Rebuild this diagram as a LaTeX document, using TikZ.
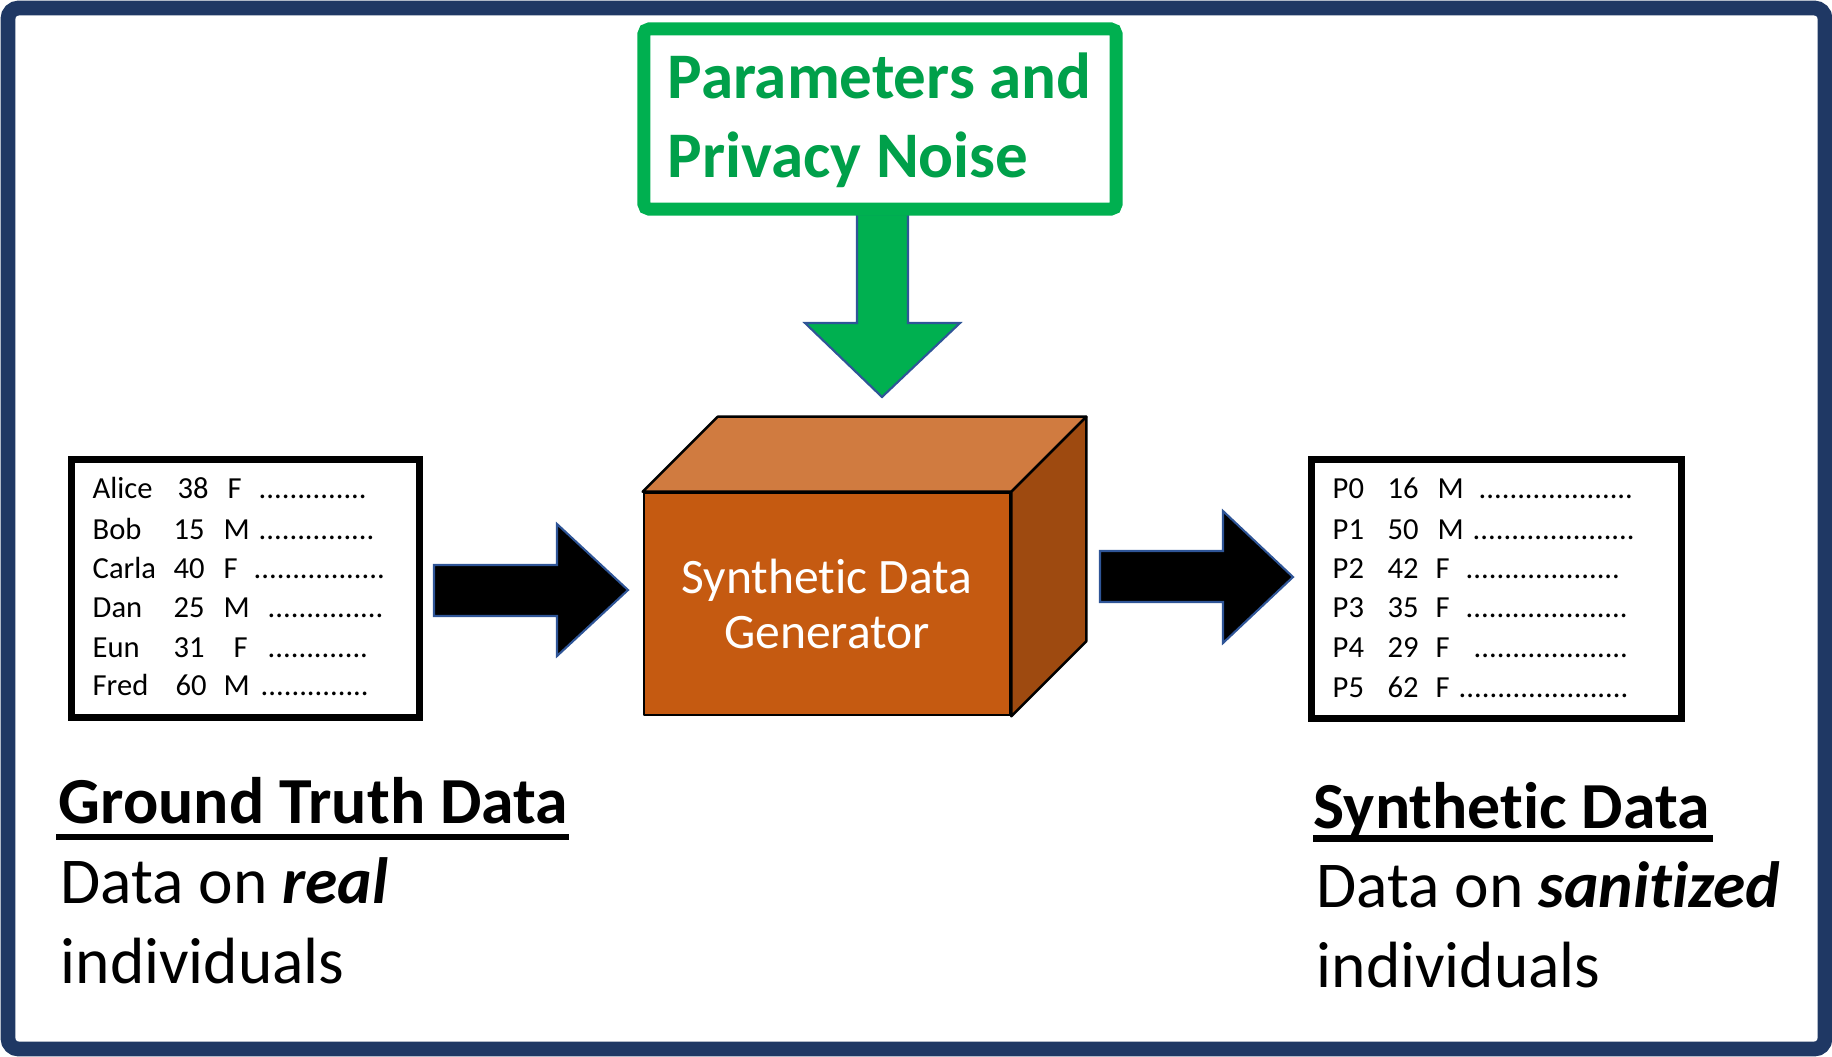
\documentclass[tikz,border=0pt]{standalone}
\usepackage{fontspec}
\setmainfont{Carlito}[Ligatures=NoCommon]
\usetikzlibrary{positioning}

\definecolor{framenavy}{HTML}{1F3864}
\definecolor{paramgreen}{HTML}{00B050}
\definecolor{paramtext}{HTML}{00A04A}
\definecolor{arrowblue}{HTML}{2F5597}
\definecolor{genfront}{HTML}{C55A11}
\definecolor{gentop}{HTML}{D07B40}
\definecolor{genside}{HTML}{9E4A10}

% run of tight dots, width in cm
\newcommand{\dotrun}[1]{\hbox to #1cm{\leaders\hbox{.}\hfill}}

\begin{document}
\begin{tikzpicture}[x=0.01cm, y=-0.01cm,
    frame/.style={draw=framenavy, line width=4.2pt, rounded corners=3pt},
    parambox/.style={draw=paramgreen, line width=3.7pt, rounded corners=1.5pt, fill=white,
      minimum width=4.72cm, minimum height=1.80cm},
    paramlabel/.style={anchor=base west, inner sep=0pt, text=paramtext,
      font=\fontsize{18.5}{22}\selectfont\bfseries},
    bigarrow/.style={fill=black, draw=arrowblue, line width=0.6pt},
    genface/.style={draw=black, line width=0.7pt, line join=round},
    tablebox/.style={draw=black, line width=2pt},
    rowtext/.style={anchor=base west, inner sep=0pt, font=\fontsize{8.7}{10}\selectfont},
    label/.style={anchor=base west, inner sep=0pt, font=\fontsize{18.6}{22}\selectfont},
    title/.style={label, font=\fontsize{18.7}{22}\selectfont\bfseries},
    uline/.style={line width=1.9pt}]

    \useasboundingbox (0,0) rectangle (1832,1056);

    % Frame
    \draw [frame] (8,8) rectangle (1825,1049);

    % Noise arrow (under the box)
    \draw [bigarrow, fill=paramgreen] (857,214) -- (857,323) -- (805,323) -- (882,397)
      -- (960,323) -- (908,323) -- (908,214) -- cycle;

    % Parameters
    \node [parambox] (params) at (880,119) {};
    \node [paramlabel] (paramline1) at (667,98) {Parameters and};
    \node [paramlabel] (paramline2) at (667,177) {Privacy Noise};

    % Generator cube
    \node [genface, fill=genfront, minimum width=3.66cm, minimum height=2.22cm,
      text=white, align=center, font=\fontsize{14.1}{15.8}\selectfont] (gen) at (827,604)
      {Synthetic Data\\Generator};
    \draw [genface, fill=gentop] (gen.north west) -- ++(75,-75)
      -- ([shift={(75,-75)}]gen.north east) -- (gen.north east) -- cycle;
    \draw [genface, fill=genside] (gen.north east) -- ++(75,-75)
      -- ([shift={(75,-75)}]gen.south east) -- (gen.south east) -- cycle;

    % Ground truth table
    \node [tablebox, minimum width=3.47cm, minimum height=2.57cm] (truth) at (245.5,588.5) {};
    \foreach \nm/\ag/\sx/\ax/\sxx/\dx/\dw/\y [count=\i] in
      {Alice/38/F/177/227/258/1.09/498, Bob/15/M/173/223/258/1.17/539,
       Carla/40/F/173/223/253/1.32/578, Dan/25/M/173/223/267/1.18/617,
       Eun/31/F/173/233/267/1.08/657, Fred/60/M/175/223/260/1.15/695}
    {
      \node [rowtext] (gt-name-\i) at (92,\y) {\nm};
      \node [rowtext] (gt-age-\i) at (\ax,\y) {\ag};
      \node [rowtext] (gt-sex-\i) at (\sxx,\y) {\sx};
      \node [rowtext] (gt-dots-\i) at (\dx,\y) {\dotrun{\dw}};
    }

    % Synthetic table
    \node [tablebox, minimum width=3.69cm, minimum height=2.58cm] (synth) at (1496.5,589) {};
    \foreach \nm/\ag/\sx/\sxx/\dx/\dw/\y [count=\i] in
      {P0/16/M/1437/1478/1.57/498, P1/50/M/1437/1472/1.63/539,
       P2/42/F/1435/1465/1.57/578, P3/35/F/1435/1465/1.63/617,
       P4/29/F/1435/1473/1.57/657, P5/62/F/1435/1458/1.72/697}
    {
      \node [rowtext] (sd-name-\i) at (1332,\y) {\nm};
      \node [rowtext] (sd-age-\i) at (1387,\y) {\ag};
      \node [rowtext] (sd-sex-\i) at (\sxx,\y) {\sx};
      \node [rowtext] (sd-dots-\i) at (\dx,\y) {\dotrun{\dw}};
    }

    % Data flow arrows
    \draw [bigarrow] (434,565) -- (557,565) -- (557,524) -- (628,590) -- (557,656)
      -- (557,616) -- (434,616) -- cycle;
    \draw [bigarrow] (1100,551) -- (1223,551) -- (1223,511) -- (1293,577) -- (1223,643)
      -- (1223,602) -- (1100,602) -- cycle;

    % Captions
    \node [title] (gttitle) at (58,823) {Ground Truth Data};
    \draw [uline] (56,837) -- (569,837);
    \node [label] (gtline1) at (60,903) {Data on \textbf{\textit{real}}};
    \node [label] (gtline2) at (60,983) {individuals};

    \node [title] (sdtitle) at (1313,828) {Synthetic Data};
    \draw [uline] (1313,838.5) -- (1713,838.5);
    \node [label] (sdline1) at (1316,907) {Data on \textbf{\textit{sanitized}}};
    \node [label] (sdline2) at (1316,987) {individuals};
  \end{tikzpicture}
\end{document}
